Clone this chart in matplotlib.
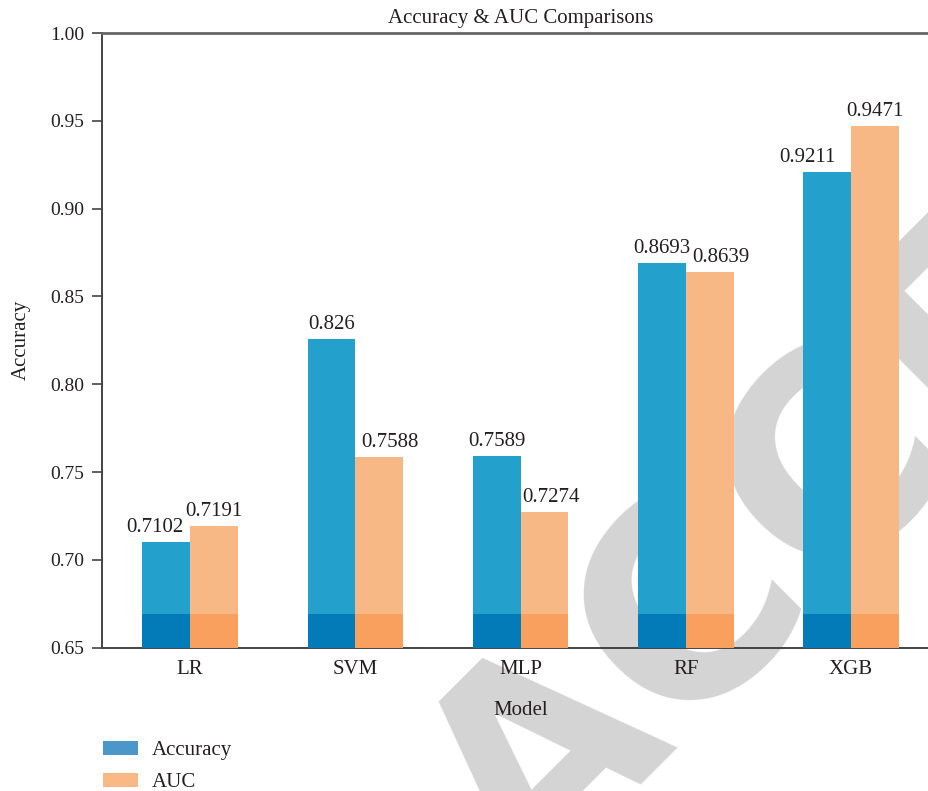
import matplotlib
matplotlib.use("Agg")
import matplotlib.pyplot as plt
from matplotlib.patches import Patch
import numpy as np

# Model scores
models = ["LR", "SVM", "MLP", "RF", "XGB"]
accuracy = [0.7102, 0.826, 0.7589, 0.8693, 0.9211]
auc = [0.7191, 0.7588, 0.7274, 0.8639, 0.9471]
base_band = 0.669          # top of the darker base section of each bar
y_ticks = [0.65, 0.70, 0.75, 0.80, 0.85, 0.90, 0.95, 1.00]

# horizontal nudges (points) for the value labels, to keep them apart
acc_label_dx = [-8, 0, 0, 0, -14]
auc_label_dx = [0, 8, 5, 8, 0]

TEXT = "#231f20"
SERIF = ["Liberation Serif", "DejaVu Serif"]
plt.rcParams["font.family"] = SERIF

ACC_LIGHT, ACC_DARK = "#23a0cc", "#027bb8"
AUC_LIGHT, AUC_DARK = "#f8b886", "#f9a05e"

fig = plt.figure(figsize=(9.29, 7.91), dpi=100)
fig.patch.set_facecolor("white")

# faint diagonal stamp behind the plot
fig.text(0.568, -0.1346, "ACCEPTED", rotation=45, rotation_mode="anchor",
         ha="left", va="baseline", fontsize=199, fontweight="bold",
         family="DejaVu Sans", color="#d4d4d4", zorder=-5)

ax = fig.add_axes([0.1103, 0.1812, 0.9001, 0.777])
ax.patch.set_alpha(0)

x = np.arange(len(models))
w = 0.289
base = y_ticks[0]

acc_h = [a - base for a in accuracy]
auc_h = [a - base for a in auc]
ax.bar(x - w / 2, acc_h, w, bottom=base, color=ACC_LIGHT, zorder=2)
ax.bar(x + w / 2, auc_h, w, bottom=base, color=AUC_LIGHT, zorder=2)
ax.bar(x - w / 2, base_band - base, w, bottom=base, color=ACC_DARK, zorder=3)
ax.bar(x + w / 2, base_band - base, w, bottom=base, color=AUC_DARK, zorder=3)

for i in range(len(models)):
    ax.annotate(f"{accuracy[i]}", (x[i] - w / 2, accuracy[i]),
                xytext=(acc_label_dx[i], 7.2), textcoords="offset points",
                ha="center", va="baseline", fontsize=15, color=TEXT)
    ax.annotate(f"{auc[i]}", (x[i] + w / 2, auc[i]),
                xytext=(auc_label_dx[i], 7.2), textcoords="offset points",
                ha="center", va="baseline", fontsize=15, color=TEXT)

ax.set_xlim(-0.53, len(models) - 1 + 0.53)
ax.set_ylim(0.65, 1.00)
ax.set_yticks(y_ticks)
ax.set_yticklabels([f"{t:.2f}" for t in y_ticks])
ax.set_xticks(x)
ax.set_xticklabels(models)

ax.tick_params(axis="y", length=7, width=1.2, color="#444", pad=6,
               labelsize=14, labelcolor=TEXT)
ax.tick_params(axis="x", length=0, pad=9, labelsize=15, labelcolor=TEXT)

for side in ["left", "bottom"]:
    ax.spines[side].set_color("#444")
    ax.spines[side].set_linewidth(1.4)
ax.spines["top"].set_color("#666")
ax.spines["top"].set_linewidth(2)
ax.spines["right"].set_visible(False)

ax.set_title("Accuracy & AUC Comparisons", fontsize=15, color=TEXT, pad=7)
ax.set_xlabel("Model", fontsize=15, color=TEXT, labelpad=16)
ax.set_ylabel("Accuracy", fontsize=15, color=TEXT, labelpad=14)

handles = [Patch(facecolor="#4b97c9", edgecolor="none", label="Accuracy"),
           Patch(facecolor="#f9b886", edgecolor="none", label="AUC")]
fig.legend(handles=handles, loc="upper left",
           bbox_to_anchor=(103 / 929, 1 - 741 / 791), frameon=False,
           fontsize=15, handlelength=1.68, handleheight=0.63,
           handletextpad=0.67, labelspacing=0.62, borderpad=0,
           borderaxespad=0, labelcolor=TEXT)

fig.savefig("out.png", dpi=100)
